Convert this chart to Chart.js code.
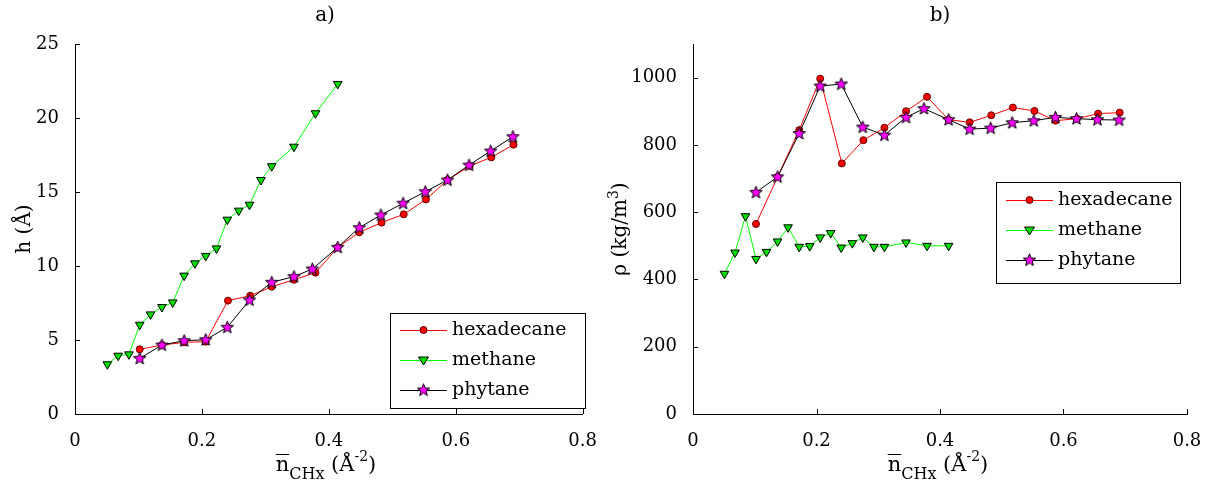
<!DOCTYPE html>
<html>
<head>
<meta charset="utf-8">
<script src="https://cdn.jsdelivr.net/npm/chart.js@4.4.0/dist/chart.umd.min.js"></script>
<style>
  body { margin: 0; background: #fff; width: 1212px; height: 487px; overflow: hidden; position: relative; }
  canvas { position: absolute; top: 0; }
  #chartA { left: 0; }
  #chartB { left: 606px; }
</style>
</head>
<body>
<canvas id="chartA" width="606" height="487"></canvas>
<canvas id="chartB" width="606" height="487"></canvas>
<script>
// surface density of CHx groups (x) for each run
var hexX = [0.102, 0.137, 0.172, 0.206, 0.241, 0.276, 0.310, 0.345, 0.379, 0.414, 0.448, 0.483, 0.518, 0.553, 0.587, 0.622, 0.656, 0.691];
var methaneX = [0.051, 0.068, 0.085, 0.102, 0.119, 0.137, 0.154, 0.172, 0.189, 0.206, 0.223, 0.240, 0.258, 0.275, 0.293, 0.310, 0.345, 0.379, 0.414];
var phyX = [0.102, 0.137, 0.172, 0.206, 0.240, 0.275, 0.310, 0.345, 0.374, 0.414, 0.448, 0.482, 0.517, 0.552, 0.587, 0.621, 0.655, 0.690];

// a) film height h (Å)
var hexH = [4.37, 4.66, 4.84, 4.89, 7.66, 7.99, 8.6, 9.07, 9.55, 11.26, 12.28, 12.93, 13.49, 14.5, 15.81, 16.76, 17.34, 18.2];
var methaneH = [3.36, 3.94, 4.03, 6.03, 6.73, 7.23, 7.54, 9.35, 10.18, 10.68, 11.19, 13.13, 13.74, 14.14, 15.81, 16.74, 18.06, 20.32, 22.3];
var phyH = [3.76, 4.66, 4.95, 5.02, 5.86, 7.70, 8.9, 9.28, 9.8, 11.26, 12.59, 13.45, 14.24, 15.02, 15.81, 16.82, 17.77, 18.74];

// b) density rho (kg/m3)
var hexRho = [565, 705, 844, 997, 745, 814, 851, 900, 943, 875, 867, 888, 911, 901, 872, 878, 893, 896];
var methaneRho = [417, 480, 588, 461, 482, 513, 555, 497, 499, 525, 538, 495, 508, 525, 497, 497, 510, 500, 500];
var phyRho = [659, 705, 834, 975, 981, 853, 829, 882, 908, 875, 847, 850, 866, 872, 882, 878, 875, 874];

var seriesNames = ['hexadecane', 'methane', 'phytane'];
var xTicks = [0, 0.2, 0.4, 0.6, 0.8];

var FONT = '"DejaVu Serif"';

function makeStar() {
  var c = document.createElement('canvas');
  c.width = 15; c.height = 15;
  var g = c.getContext('2d');
  g.beginPath();
  for (var i = 0; i < 10; i++) {
    var r = i % 2 ? 2.8 : 6.5;
    var a = -Math.PI / 2 + i * Math.PI / 5;
    g.lineTo(7.5 + r * Math.cos(a), 7.8 + r * Math.sin(a));
  }
  g.closePath();
  g.fillStyle = '#ff00ff';
  g.fill();
  g.lineWidth = 1;
  g.strokeStyle = '#000';
  g.stroke();
  return c;
}
var star = makeStar();

function pts(xs, ys) {
  return xs.map(function (x, i) { return { x: x, y: ys[i] }; });
}

function datasets(hy, my, py) {
  return [
    { label: seriesNames[0], data: pts(hexX, hy), borderColor: '#ff0000', borderWidth: 1,
      pointStyle: 'circle', pointRadius: 3.5, pointBackgroundColor: '#ff0000',
      pointBorderColor: '#600000', pointBorderWidth: 1, order: 3 },
    { label: seriesNames[1], data: pts(methaneX, my), borderColor: '#00ff00', borderWidth: 1,
      pointStyle: 'triangle', pointRotation: 180, pointRadius: 5, pointBackgroundColor: '#00dd00',
      pointBorderColor: '#000', pointBorderWidth: 1, order: 2 },
    { label: seriesNames[2], data: pts(phyX, py), borderColor: '#000', borderWidth: 1,
      pointStyle: star, pointRadius: 6, order: 1 }
  ];
}

function drawMarker(ctx, kind, x, y) {
  ctx.save();
  ctx.lineWidth = 1;
  if (kind === 0) {
    ctx.beginPath(); ctx.arc(x, y, 3.5, 0, Math.PI * 2);
    ctx.fillStyle = '#ff0000'; ctx.fill(); ctx.strokeStyle = '#600000'; ctx.stroke();
  } else if (kind === 1) {
    ctx.beginPath();
    ctx.moveTo(x - 5, y - 3); ctx.lineTo(x + 5, y - 3); ctx.lineTo(x, y + 5); ctx.closePath();
    ctx.fillStyle = '#00dd00'; ctx.fill(); ctx.strokeStyle = '#000'; ctx.stroke();
  } else {
    ctx.drawImage(star, x - 7.5, y - 7.5);
  }
  ctx.restore();
}

// x axis title: n-bar, subscript CHx, (Å^-2)
function drawXTitle(ctx, cx, base) {
  var big = '21px ' + FONT, sub = '16px ' + FONT, sup = '14px ' + FONT;
  var parts = [['n', big, 0], ['CHx', sub, 8], [' (Å', big, 0], ['-2', sup, -10], [')', big, 0]];
  var total = 0;
  parts.forEach(function (p) { ctx.font = p[1]; p.push(ctx.measureText(p[0]).width); total += p[3]; });
  var x = cx - total / 2;
  ctx.fillStyle = '#000';
  ctx.textBaseline = 'alphabetic';
  ctx.textAlign = 'left';
  parts.forEach(function (p, i) {
    ctx.font = p[1];
    ctx.fillText(p[0], x, base + p[2]);
    if (i === 0) {
      ctx.fillRect(x, base - 17, p[3], 1);
    }
    x += p[3];
  });
}

function drawYTitle(ctx, cx, cy, parts) {
  ctx.save();
  ctx.translate(cx, cy);
  ctx.rotate(-Math.PI / 2);
  var total = 0;
  parts.forEach(function (p) { ctx.font = p[1]; p.push(ctx.measureText(p[0]).width); total += p[3]; });
  var x = -total / 2;
  ctx.fillStyle = '#000';
  ctx.textBaseline = 'middle';
  ctx.textAlign = 'left';
  parts.forEach(function (p) {
    ctx.font = p[1];
    ctx.fillText(p[0], x, p[2]);
    x += p[3];
  });
  ctx.restore();
}

var decorations = {
  id: 'decorations',
  afterDraw: function (chart, args, opts) {
    var ctx = chart.ctx, a = chart.chartArea;
    var xs = chart.scales.x, ys = chart.scales.y;
    // inward tick marks
    ctx.save();
    ctx.strokeStyle = '#000';
    ctx.lineWidth = 1;
    ctx.beginPath();
    xs.ticks.forEach(function (t) {
      var p = Math.round(xs.getPixelForValue(t.value)) + 0.5;
      ctx.moveTo(p, a.bottom); ctx.lineTo(p, a.bottom - 5);
    });
    ys.ticks.forEach(function (t) {
      var p = Math.round(ys.getPixelForValue(t.value)) + 0.5;
      ctx.moveTo(a.left, p); ctx.lineTo(a.left + 5, p);
    });
    ctx.stroke();

    // panel letter
    ctx.fillStyle = '#000';
    ctx.font = '20px ' + FONT;
    ctx.textAlign = 'center';
    ctx.textBaseline = 'middle';
    ctx.fillText(opts.letter, opts.letterX, 16);

    drawXTitle(ctx, opts.xTitleX, 471);
    drawYTitle(ctx, opts.yTitleX, 229, opts.yTitle);

    // legend box
    var L = opts.legend;
    ctx.fillStyle = '#fff';
    ctx.fillRect(L.x, L.y, L.w, L.h);
    ctx.strokeStyle = '#000';
    ctx.strokeRect(L.x + 0.5, L.y + 0.5, L.w, L.h);
    var colors = ['#ff0000', '#00ff00', '#000'];
    seriesNames.forEach(function (name, i) {
      var ry = L.row0 + i * 30;
      ctx.strokeStyle = colors[i];
      ctx.beginPath();
      ctx.moveTo(L.x + 10, ry + 0.5); ctx.lineTo(L.x + 57, ry + 0.5);
      ctx.stroke();
      drawMarker(ctx, i, L.x + 33.5, ry);
      ctx.fillStyle = '#000';
      ctx.font = '19px ' + FONT;
      ctx.textAlign = 'left';
      ctx.textBaseline = 'middle';
      ctx.fillText(name, L.x + 62, ry);
    });
    ctx.restore();
  }
};

function makeChart(id, sets, yMax, yStep, yLabelMax, yWidth, padRight, deco) {
  return new Chart(document.getElementById(id), {
    type: 'line',
    data: { datasets: sets },
    options: {
      responsive: false,
      animation: false,
      devicePixelRatio: 1,
      layout: { padding: { top: 44, right: padRight, bottom: 0, left: 0 } },
      plugins: { legend: { display: false }, tooltip: { enabled: false }, decorations: deco },
      elements: { line: { tension: 0 } },
      scales: {
        x: {
          type: 'linear', min: 0, max: 0.8,
          grid: { display: false },
          border: { display: true, color: '#000', width: 1 },
          afterBuildTicks: function (s) { s.ticks = xTicks.map(function (v) { return { value: v }; }); },
          afterFit: function (s) { s.height = 73; },
          ticks: {
            color: '#000', padding: 9, maxRotation: 0,
            font: { family: FONT, size: 18 },
            callback: function (v) { return String(Math.round(v * 10) / 10); }
          }
        },
        y: {
          min: 0, max: yMax,
          grid: { display: false },
          border: { display: true, color: '#000', width: 1 },
          afterBuildTicks: function (s) {
            var t = [];
            for (var v = 0; v <= yLabelMax; v += yStep) t.push({ value: v });
            s.ticks = t;
          },
          afterFit: function (s) { s.width = yWidth; },
          ticks: {
            color: '#000', padding: 8, font: { family: FONT, size: 18 },
            callback: function (v) { return String(v); }
          }
        }
      }
    },
    plugins: [decorations]
  });
}

makeChart('chartA', datasets(hexH, methaneH, phyH), 25, 5, 25, 75, 21, {
  letter: 'a)', letterX: 325, xTitleX: 326, yTitleX: 25,
  yTitle: [['h (Å)', '20px ' + FONT, 0]],
  legend: { x: 390, y: 313, w: 195, h: 95, row0: 330 }
});

makeChart('chartB', datasets(hexRho, methaneRho, phyRho), 1100, 200, 1000, 87, 25, {
  letter: 'b)', letterX: 334, xTitleX: 332, yTitleX: 15,
  yTitle: [['ρ (kg/m', '20px ' + FONT, 0], ['3', '14px ' + FONT, -7], [')', '20px ' + FONT, 0]],
  legend: { x: 390, y: 182, w: 184, h: 101, row0: 200 }
});
</script>
</body>
</html>
